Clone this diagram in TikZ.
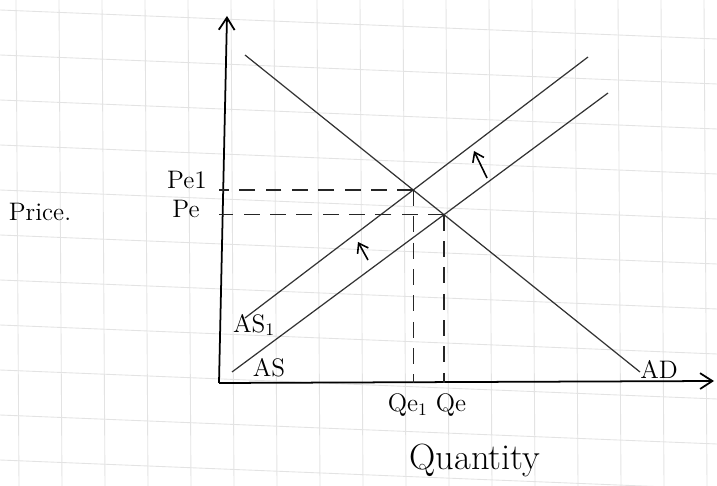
\documentclass[tikz,border=0pt]{standalone}
\usetikzlibrary{arrows.meta, intersections}

\begin{document}
\begin{tikzpicture}[
    x=0.02cm, y=-0.02cm,
    gridline/.style={draw=gray!22, line width=0.5pt},
    axis/.style={-{Straight Barb[length=7pt, width=9pt]}, line width=1pt},
    curve/.style={draw=black!80, line width=0.7pt},
    guide/.style={draw=black!85, dash pattern=on 9pt off 6pt, line width=0.8pt},
    shiftarrow/.style={-{Straight Barb[length=5pt, width=7pt]}, line width=0.9pt},
    lbl/.style={inner sep=1pt, font=\Large}
]
\useasboundingbox (0,0) rectangle (717,486);

% Paper grid
\foreach \gx in {16,59,...,717}
    \draw[gridline] (\gx,0) -- (\gx+3,486);
\foreach \gy in {10,55,...,486}
    \draw[gridline] (0,\gy) -- (717,\gy+29);

% Axes
\coordinate (O) at (219,383);
\coordinate (ytop) at (227,16);
\coordinate (xend) at (714,381);
\draw[axis] (O) -- (ytop);
\draw[axis] (O) -- (xend);

% Demand and supply curves
\coordinate (ad1) at (245,55);
\coordinate (ad2) at (640,372);
\coordinate (asa1) at (245,318);
\coordinate (asa2) at (588,57);
\coordinate (asb1) at (232,372);
\coordinate (asb2) at (608,93);
\draw[curve, name path=ad] (ad1) -- (ad2);
\draw[curve, name path=as1] (asa1) -- (asa2);
\draw[curve, name path=as] (asb1) -- (asb2);

% Equilibria
\path[name intersections={of=ad and as1, by=e1}];
\path[name intersections={of=ad and as, by=e0}];
\draw[guide] (e1) -- (e1 -| O);
\draw[guide] (e0) -- (e0 -| O);
\draw[guide] (e1) -- (e1 |- O);
\draw[guide] (e0) -- (e0 |- O);

% Shift arrows
\coordinate (sh1a) at (487,178);
\coordinate (sh1b) at (474,151);
\coordinate (sh2a) at (368,260);
\coordinate (sh2b) at (358,242);
\draw[shiftarrow] (sh1a) -- (sh1b);
\draw[shiftarrow] (sh2a) -- (sh2b);

% Labels
\node[lbl] (pe1) at (187,180) {Pe1};
\node[lbl] (pe) at (186,209) {Pe};
\node[lbl] (price) at (40,212) {Price.};
\node[lbl] (as1lbl) at (254,325) {AS$_1$};
\node[lbl] (aslbl) at (269,368) {AS};
\node[lbl] (adlbl) at (659,369) {AD};
\node[lbl] (qe) at (427,405) {Qe$_1$ Qe};
\node[lbl, font=\huge] (qty) at (475,460) {Quantity};

\end{tikzpicture}
\end{document}
